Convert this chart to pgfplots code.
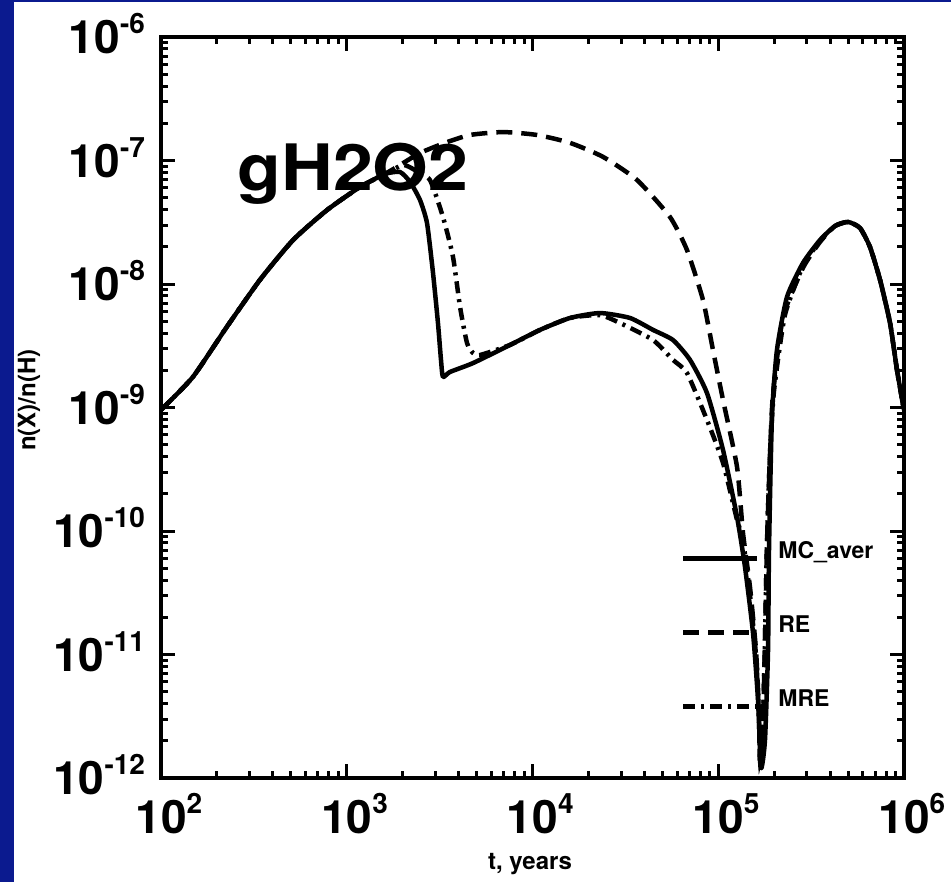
\documentclass[border=0pt]{standalone}
\usepackage{fontspec}
\setmainfont{TeX Gyre Heros}
\usepackage{pgfplots}
\pgfplotsset{compat=1.18}
\definecolor{slidebg}{HTML}{0B1A8F}
\newcommand\expo[1]{\raisebox{20pt}{\fontsize{28}{28}\selectfont #1}}
\newcommand\ticklab{\fontsize{46}{46}\selectfont\bfseries}
\pgfplotsset{
  every axis/.append style={line width=4pt},
  every tick/.append style={black, line width=3pt},
}

\begin{document}
\begin{tikzpicture}
\fill[slidebg] (0pt,0pt) rectangle (951pt,882pt);
\fill[white] (14pt,0pt) rectangle (951pt,880pt);
\begin{axis}[
  at={(161pt,104pt)}, anchor=south west,
  scale only axis, width=743pt, height=741pt,
  xmode=log, ymode=log,
  xmin=1e2, xmax=1e6, ymin=1e-12, ymax=1e-6,
  xtick={1e2,1e3,1e4,1e5,1e6},
  xticklabels={10\rlap{\expo{2}},10\rlap{\expo{3}},10\rlap{\expo{4}},10\rlap{\expo{5}},10\rlap{\expo{6}}},
  minor xtick={200,300,400,500,600,700,800,900,2000,3000,4000,5000,6000,7000,8000,9000,
    20000,30000,40000,50000,60000,70000,80000,90000,200000,300000,400000,500000,600000,700000,800000,900000},
  ytick={1e-12,1e-11,1e-10,1e-9,1e-8,1e-7,1e-6},
  yticklabels={10\expo{-12},10\expo{-11},10\expo{-10},10\expo{-9},10\expo{-8},10\expo{-7},10\expo{-6}},
  minor ytick={2e-12,3e-12,4e-12,5e-12,6e-12,7e-12,8e-12,9e-12,
    2e-11,3e-11,4e-11,5e-11,6e-11,7e-11,8e-11,9e-11,
    2e-10,3e-10,4e-10,5e-10,6e-10,7e-10,8e-10,9e-10,
    2e-9,3e-9,4e-9,5e-9,6e-9,7e-9,8e-9,9e-9,
    2e-8,3e-8,4e-8,5e-8,6e-8,7e-8,8e-8,9e-8,
    2e-7,3e-7,4e-7,5e-7,6e-7,7e-7,8e-7,9e-7},
  major tick length=14pt, minor tick length=7pt,
  xticklabel style={font=\ticklab, anchor=base, inner sep=0pt, yshift=-55pt},
  yticklabel style={font=\ticklab, anchor=base east, inner sep=0pt, xshift=-14pt, yshift=-16.5pt},
  xlabel={t, years},
  xlabel style={at={(axis description cs:0.4966,-0.124)}, anchor=base, font=\fontsize{24}{24}\selectfont\bfseries},
  ylabel={n(X)/n(H)},
  ylabel style={at={(axis description cs:-0.1777,0.51)}, anchor=center, font=\fontsize{24}{24}\selectfont\bfseries},
  legend style={at={(0.697,0.322)}, anchor=north west, draw=none, fill=none, inner sep=0pt,
    font=\fontsize{23}{23}\selectfont\bfseries, row sep=55pt, column sep=19pt,
    cells={anchor=base west}, nodes={inner sep=0pt}},
  legend image code/.code={\draw[#1] (0pt,0pt) -- (74pt,0pt);},
]
% MC_aver
\addplot[black, line width=4.5pt, line join=round, smooth, tension=0.35] coordinates {
(100,9.55e-10) (148.6,1.77e-9) (226,4.49e-9) (341,1.08e-8) (514,2.27e-8) (783,3.97e-8)
(1178,6.10e-8) (1607,7.78e-8) (1936,8.07e-8) (2193,6.70e-8) (2479,4.79e-8) (2704,3.12e-8)
(2913,1.23e-8) (3098,4.83e-9) (3216,2.43e-9) (3296,1.77e-9) (3594,1.94e-9) (4786,2.29e-9)
(7568,3.21e-9) (10970,4.25e-9) (15920,5.31e-9) (23070,5.82e-9) (33480,5.31e-9) (44550,4.25e-9)
(57060,3.52e-9) (70460,2.43e-9) (86960,1.31e-9) (106100,4.53e-10) (126200,1.30e-10)
(139300,5.11e-11) (153900,1.49e-11) (163700,4.28e-12) (169900,1.21e-12) (178500,2.03e-12)
(185400,1.09e-11) (187600,7.02e-11) (194600,8.37e-10) (207000,2.92e-9) (234400,7.85e-9)
(285800,1.48e-8) (353000,2.27e-8) (425300,2.95e-8) (499900,3.18e-8) (579900,2.84e-8)
(656300,1.99e-8) (743000,1.08e-8) (841200,4.83e-9) (916800,2.01e-9) (1000000,9.55e-10)
};
% RE
\addplot[black, line width=4.5pt, dash pattern=on 16pt off 9pt, smooth, tension=0.35] coordinates {
(100,9.55e-10) (148.6,1.77e-9) (226,4.49e-9) (341,1.08e-8) (514,2.27e-8) (783,3.97e-8)
(1178,6.10e-8) (1607,7.78e-8) (1936,9.20e-8) (2479,1.15e-7) (3381,1.39e-7) (4609,1.61e-7)
(6938,1.70e-7) (10570,1.61e-7) (15920,1.39e-7) (23970,1.07e-7) (36560,6.95e-8) (54970,3.49e-8)
(67920,1.88e-8) (82790,7.41e-9) (93690,2.92e-9) (106100,1.15e-9) (126200,3.30e-10)
(135900,9.63e-11) (148200,3.52e-11) (159600,1.09e-11) (165600,3.56e-12) (167800,1.40e-12)
(174200,2.95e-12) (178500,1.31e-11) (183200,8.45e-11) (190300,4.53e-10) (197300,1.31e-9)
(223400,5.41e-9) (285800,1.35e-8) (353000,2.19e-8) (425300,2.95e-8) (499900,3.18e-8)
(579900,2.84e-8) (656300,1.99e-8) (743000,1.08e-8) (841200,4.83e-9) (916800,2.01e-9)
(1000000,9.55e-10)
};
% MRE
\addplot[black, line width=4.5pt, dash pattern=on 12pt off 6pt on 3pt off 6pt, smooth, tension=0.35] coordinates {
(100,9.55e-10) (148.6,1.77e-9) (226,4.49e-9) (341,1.08e-8) (514,2.27e-8) (783,3.97e-8)
(1178,6.10e-8) (1607,7.78e-8) (2009,9.20e-8) (2328,8.37e-8) (2805,6.95e-8) (3296,3.49e-8)
(3732,1.66e-8) (4073,6.52e-9) (4440,3.33e-9) (4786,2.76e-9) (5214,2.66e-9) (7568,3.21e-9)
(10970,4.25e-9) (15920,5.31e-9) (23070,5.60e-9) (29580,4.83e-9) (44550,3.52e-9) (57060,2.43e-9)
(67920,1.90e-9) (86960,7.93e-10) (106100,3.56e-10) (126200,1.23e-10) (135900,8.45e-11)
(148200,3.03e-11) (159600,9.9e-12) (165600,3.2e-12) (167800,1.35e-12) (174200,2.95e-12)
(178500,1.31e-11) (183200,8.45e-11) (190300,4.53e-10) (199900,1.39e-9) (228600,5.61e-9)
(285800,1.40e-8) (353000,2.23e-8) (425300,2.95e-8) (499900,3.18e-8) (579900,2.84e-8)
(656300,1.99e-8) (743000,1.08e-8) (841200,4.83e-9) (916800,2.01e-9) (1000000,9.55e-10)
};
\legend{MC\_aver,RE,MRE}
\node[anchor=base, font=\fontsize{64}{64}\selectfont\bfseries] at (rel axis cs:0.2584,0.7935) {\scalebox{1.12}[1]{gH2O2}};
\end{axis}
\pgfresetboundingbox
\path[use as bounding box] (0pt,0pt) rectangle (951pt,882pt);
\end{tikzpicture}
\end{document}
